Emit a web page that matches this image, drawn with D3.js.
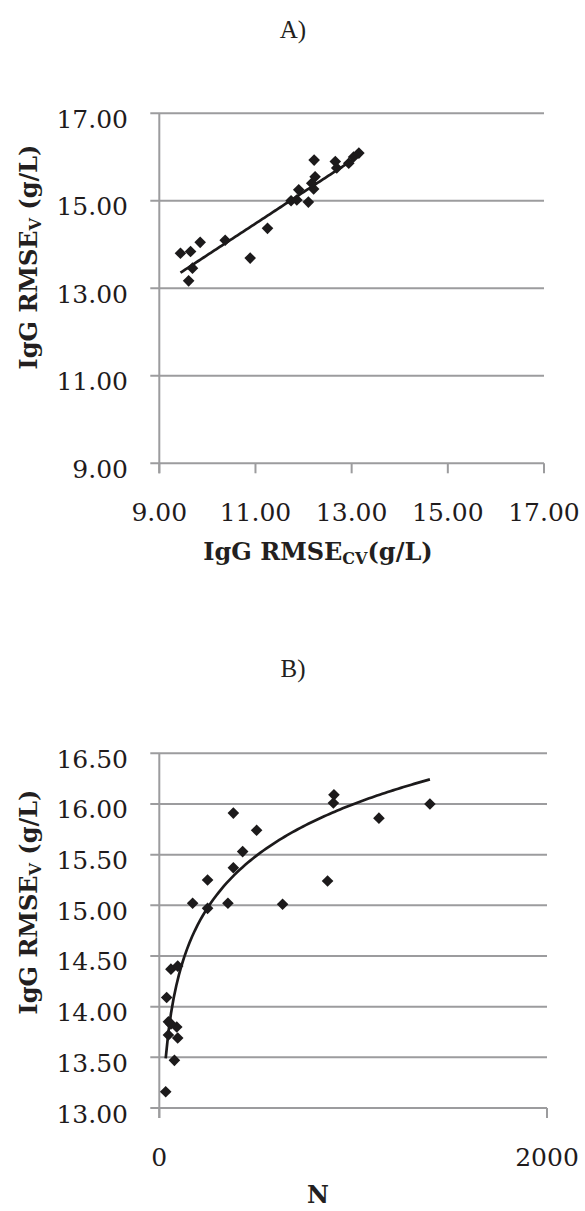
<!DOCTYPE html>
<html>
<head>
<meta charset="utf-8">
<script src="https://cdn.jsdelivr.net/npm/d3@7"></script>
<style>
  body { margin: 0; background: #fff; }
  svg { display: block; }
  .tick-label { font-family: "DejaVu Serif", serif; font-size: 25px; fill: #1f1b1c; }
  .panel-title { font-family: "Liberation Serif", serif; font-size: 25px; fill: #231f20; }
  .axis-title { font-family: "DejaVu Serif", serif; font-weight: bold; font-size: 24px; fill: #231f20; }
</style>
</head>
<body>
<svg id="chart" width="585" height="1211"></svg>
<script>
// ---------------- data ----------------
// panel A: RMSEcv vs RMSEv
var rmseCV = [9.44, 9.65, 9.85, 9.69, 9.61, 10.37, 10.89, 11.25, 11.74, 11.9, 11.86, 12.1, 12.21, 12.17, 12.24, 12.22, 12.66, 12.69, 12.94, 13.04, 13.15];
var rmseV_A = [13.8, 13.84, 14.05, 13.46, 13.17, 14.1, 13.69, 14.37, 15.0, 15.25, 15.02, 14.97, 15.27, 15.4, 15.55, 15.93, 15.9, 15.75, 15.86, 16.0, 16.09];
var ticksA = [9, 11, 13, 15, 17];
// linear trendline (slope, intercept)
var trendA = [0.72, 6.56];

// panel B: N vs RMSEv
var nSamples = [33, 78, 95, 47, 47, 90, 60, 38, 60, 95, 172, 249, 354, 249, 382, 430, 382, 502, 636, 868, 898, 901, 1133, 1396];
var rmseV_B = [13.16, 13.47, 13.69, 13.72, 13.85, 13.8, 13.83, 14.09, 14.37, 14.4, 15.02, 14.97, 15.02, 15.25, 15.37, 15.53, 15.91, 15.74, 15.01, 15.24, 16.01, 16.09, 15.86, 16.0];
var ticksBx = [0, 2000];
var ticksBy = [13, 13.5, 14, 14.5, 15, 15.5, 16, 16.5];
// log trendline y = a*ln(N) + b
var trendB = [0.735, 10.92];

var gridColor = "#9c9c9e";
var markColor = "#1c1a1b";

var svg = d3.select("#chart");

// diamond marker
function diamond(r) {
    return "M0," + (-r) + "L" + r + ",0L0," + r + "L" + (-r) + ",0Z";
}

function drawPanel(opt) {
    var g = svg.append("g");
    var x = opt.x, y = opt.y;
    var x0 = x.range()[0], x1 = x.range()[1];
    var yb = y.range()[0], yt = y.range()[1];

    // horizontal gridlines (with little ticks sticking out left)
    g.selectAll(".grid").data(opt.yTicks).enter().append("line")
        .attr("x1", x0 - 9).attr("x2", x1)
        .attr("y1", function (d) { return y(d); }).attr("y2", function (d) { return y(d); })
        .attr("stroke", gridColor).attr("stroke-width", 2);

    // vertical axis
    g.append("line")
        .attr("x1", x0).attr("x2", x0).attr("y1", yt).attr("y2", yb + 10)
        .attr("stroke", gridColor).attr("stroke-width", 2);

    // x ticks
    g.selectAll(".xt").data(opt.xTicks).enter().append("line")
        .attr("x1", function (d) { return x(d); }).attr("x2", function (d) { return x(d); })
        .attr("y1", yb).attr("y2", yb + 10)
        .attr("stroke", gridColor).attr("stroke-width", 2);

    // y tick labels
    g.selectAll(".yl").data(opt.yTicks).enter().append("text")
        .attr("class", "tick-label")
        .attr("text-anchor", "end")
        .attr("x", 128)
        .attr("y", function (d) { return y(d) + 14.5; })
        .text(function (d) { return d.toFixed(2); });

    // x tick labels
    g.selectAll(".xl").data(opt.xTicks).enter().append("text")
        .attr("class", "tick-label")
        .attr("text-anchor", "middle")
        .attr("x", function (d) { return x(d); })
        .attr("y", yb + 58)
        .text(opt.xFormat);

    // trend line over the data range
    var lo = d3.min(opt.xs), hi = d3.max(opt.xs);
    var steps = d3.range(0, 101).map(function (i) { return lo + (hi - lo) * i / 100; });
    g.append("path")
        .datum(steps)
        .attr("fill", "none").attr("stroke", markColor).attr("stroke-width", 2.7)
        .attr("d", d3.line()
            .x(function (d) { return x(d); })
            .y(function (d) { return y(opt.trend(d)); }));

    // markers
    g.selectAll(".pt").data(opt.xs).enter().append("path")
        .attr("d", diamond(5.8))
        .attr("fill", markColor)
        .attr("transform", function (d, i) { return "translate(" + x(d) + "," + y(opt.ys[i]) + ")"; });

    // panel title
    g.append("text").attr("class", "panel-title")
        .attr("x", 293).attr("y", opt.titleY).attr("text-anchor", "middle")
        .text(opt.title);
}

// ---------------- panel A ----------------
var xA = d3.scaleLinear().domain([9, 17]).range([159.3, 544]);
var yA = d3.scaleLinear().domain([9, 17]).range([463.3, 113.3]);
drawPanel({
    x: xA, y: yA, xTicks: ticksA, yTicks: ticksA,
    xFormat: function (d) { return d.toFixed(2); },
    xs: rmseCV, ys: rmseV_A,
    trend: function (v) { return trendA[0] * v + trendA[1]; },
    title: "A)", titleY: 38
});

// y title A
var tA = svg.append("text").attr("class", "axis-title")
    .attr("text-anchor", "middle")
    .attr("transform", "translate(37,257) rotate(-90)");
tA.append("tspan").text("IgG RMSE");
tA.append("tspan").attr("font-size", "16px").attr("dy", 4).text("V");
tA.append("tspan").attr("dy", -4).text(" (g/L)");

// x title A
var tAx = svg.append("text").attr("class", "axis-title")
    .attr("text-anchor", "middle")
    .attr("x", 318).attr("y", 560);
tAx.append("tspan").text("IgG RMSE");
tAx.append("tspan").attr("font-size", "16px").attr("dy", 4).text("CV");
tAx.append("tspan").attr("dy", -4).text("(g/L)");

// ---------------- panel B ----------------
var xB = d3.scaleLinear().domain([0, 2000]).range([159.3, 547]);
var yB = d3.scaleLinear().domain([13, 16.5]).range([1108, 753.3]);
drawPanel({
    x: xB, y: yB, xTicks: ticksBx, yTicks: ticksBy,
    xFormat: function (d) { return String(d); },
    xs: nSamples, ys: rmseV_B,
    trend: function (v) { return trendB[0] * Math.log(v) + trendB[1]; },
    title: "B)", titleY: 677
});

// y title B
var tB = svg.append("text").attr("class", "axis-title")
    .attr("text-anchor", "middle")
    .attr("transform", "translate(37,902) rotate(-90)");
tB.append("tspan").text("IgG RMSE");
tB.append("tspan").attr("font-size", "16px").attr("dy", 4).text("V");
tB.append("tspan").attr("dy", -4).text(" (g/L)");

// x title B
svg.append("text").attr("class", "axis-title")
    .attr("text-anchor", "middle")
    .attr("x", 318).attr("y", 1203)
    .text("N");
</script>
</body>
</html>
